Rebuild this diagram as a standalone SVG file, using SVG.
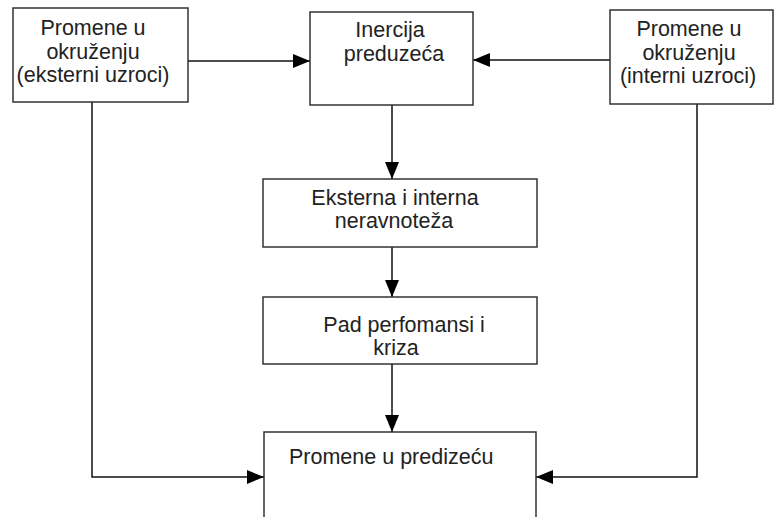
<svg xmlns="http://www.w3.org/2000/svg" width="774" height="517" viewBox="0 0 774 517">
  <style>
    .box { fill: #ffffff; stroke: #333333; stroke-width: 1.5; }
    .lbl { font-family: "Liberation Sans", Arial, sans-serif; font-size: 21.5px; fill: #222222; text-anchor: middle; }
    .lbl-start { text-anchor: start; }
    .conn { fill: none; stroke: #111111; stroke-width: 1.5; }
  </style>
  <defs>
    <marker id="arrow" markerUnits="userSpaceOnUse" markerWidth="17" markerHeight="14" refX="17" refY="7" orient="auto">
      <path d="M0,0 L17,7 L0,14 z" fill="#000000"/>
    </marker>
  </defs>
  <rect width="774" height="517" fill="#ffffff"/>

  <g id="connectors">
    <line class="conn" x1="188" y1="61" x2="310" y2="61" marker-end="url(#arrow)"/>
    <line class="conn" x1="610" y1="60" x2="473" y2="60" marker-end="url(#arrow)"/>
    <line class="conn" x1="392" y1="105" x2="392" y2="179" marker-end="url(#arrow)"/>
    <line class="conn" x1="392" y1="247" x2="392" y2="297" marker-end="url(#arrow)"/>
    <line class="conn" x1="392" y1="364" x2="392" y2="432" marker-end="url(#arrow)"/>
    <polyline class="conn" points="92,102 92,477 264,477" marker-end="url(#arrow)"/>
    <polyline class="conn" points="697,104 697,477 536,477" marker-end="url(#arrow)"/>
  </g>

  <g id="node-eksterni">
    <rect class="box" x="13" y="8" width="175" height="94"/>
    <text class="lbl" x="93" y="35">Promene u</text>
    <text class="lbl" x="93" y="58.5">okruženju</text>
    <text class="lbl" x="93" y="82">(eksterni uzroci)</text>
  </g>

  <g id="node-inercija">
    <rect class="box" x="310" y="12" width="163" height="93"/>
    <text class="lbl" x="390" y="37">Inercija</text>
    <text class="lbl" x="394" y="61">preduzeća</text>
  </g>

  <g id="node-interni">
    <rect class="box" x="610" y="10" width="163" height="94"/>
    <text class="lbl" x="689" y="36">Promene u</text>
    <text class="lbl" x="689" y="59.5">okruženju</text>
    <text class="lbl" x="688" y="83">(interni uzroci)</text>
  </g>

  <g id="node-neravnoteza">
    <rect class="box" x="263" y="179" width="274" height="68"/>
    <text class="lbl" x="395" y="205">Eksterna i interna</text>
    <text class="lbl" x="394" y="228">neravnoteža</text>
  </g>

  <g id="node-kriza">
    <rect class="box" x="263" y="297" width="274" height="67"/>
    <text class="lbl" x="404" y="332">Pad perfomansi i</text>
    <text class="lbl" x="396" y="355">kriza</text>
  </g>

  <g id="node-promene">
    <rect class="box" x="264" y="432" width="272" height="100"/>
    <text class="lbl lbl-start" x="289" y="464">Promene u predizeću</text>
  </g>
</svg>
